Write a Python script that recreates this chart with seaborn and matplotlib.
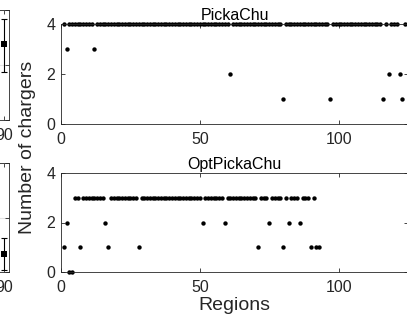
import numpy as np
import pandas as pd
import matplotlib
matplotlib.use("Agg")
import matplotlib.pyplot as plt
import seaborn as sns

# Chargers per region, PickaChu (regions 1..124; default is 4)
pick_regions = list(range(1, 125))
pick_exceptions = {2: 3, 12: 3, 61: 2, 80: 1, 97: 1, 116: 1, 118: 2, 122: 2, 123: 1}
pick_chargers = [pick_exceptions.get(r, 4) for r in pick_regions]

# Chargers per region, OptPickaChu (regions 1..93; default is 3)
opt_regions = list(range(1, 94))
opt_exceptions = {1: 1, 2: 2, 3: 0, 4: 0, 7: 1, 16: 2, 17: 1, 28: 1, 51: 2, 59: 2,
                  71: 1, 75: 2, 80: 1, 82: 2, 86: 2, 90: 1, 92: 1, 93: 1}
opt_chargers = [opt_exceptions.get(r, 3) for r in opt_regions]

# Neighbouring panels: mean with error range at x = 90
side_x = [90]
side_top_mean, side_top_lo, side_top_hi = [2.75], [1.76], [3.67]
side_bot_mean, side_bot_lo, side_bot_hi = [0.66], [0.08], [1.25]

sns.set_theme(style="white")
plt.rcParams["font.family"] = ["Liberation Sans", "DejaVu Sans"]

W, H = 407, 326
fig = plt.figure(figsize=(W / 100, H / 100), dpi=100)

def box(l, t, r, b):
    return [l / W, 1 - b / H, (r - l) / W, (b - t) / H]

spine_col = "#262626"
fs_tick = 11.5

def style(ax):
    for s in ax.spines.values():
        s.set_color(spine_col)
        s.set_linewidth(0.6)
        s.set_visible(True)
    ax.tick_params(direction="in", length=3, width=0.6, color=spine_col,
                   labelsize=fs_tick, labelcolor="#262626",
                   top=True, right=True, bottom=True, left=True)
    ax.tick_params(axis="x", pad=6)
    ax.tick_params(axis="y", pad=4)

ax_top = fig.add_axes(box(61, 24, 408, 124))
ax_bot = fig.add_axes(box(61, 173, 408, 272))

for ax, x, y, title in [(ax_top, pick_regions, pick_chargers, "PickaChu"),
                        (ax_bot, opt_regions, opt_chargers, "OptPickaChu")]:
    df = pd.DataFrame({"Region": x, "Chargers": y})
    sns.scatterplot(data=df, x="Region", y="Chargers", ax=ax, color="black",
                    s=10, linewidth=0, legend=False, clip_on=False)
    ax.set_xlim(0, 125)
    ax.set_ylim(0, 4)
    ax.set_xticks([0, 50, 100])
    ax.set_yticks([0, 2, 4])
    ax.set_xlabel("")
    ax.set_ylabel("")
    ax.set_title(title, fontsize=fs_tick, pad=3, color="#000000")
    style(ax)

# Partial panels to the left
for (t, b), m, lo, hi in [((10, 120), side_top_mean, side_top_lo, side_top_hi),
                          ((163, 272), side_bot_mean, side_bot_lo, side_bot_hi)]:
    ax = fig.add_axes(box(-120, t, 8.5, b))
    ax.set_xlim(30, 92)
    ax.set_ylim(0, 4)
    ax.set_xticks([30, 50, 70, 90])
    ax.set_yticks([0, 2, 4])
    ax.yaxis.grid(True, color="#e3e3e3", linewidth=0.8)
    ax.set_axisbelow(True)
    yerr = [[m[0] - lo[0]], [hi[0] - m[0]]]
    ax.errorbar(side_x, m, yerr=yerr, fmt="none", ecolor="black",
                elinewidth=0.8, capsize=2.3, capthick=0.8)
    sns.scatterplot(x=side_x, y=m, ax=ax, color="black", marker="s", s=16,
                    linewidth=0, legend=False)
    style(ax)

fig.text(28 / W, 1 - 147 / H, "Number of chargers", rotation=90,
         ha="center", va="center", fontsize=14, color="#262626")
fig.text(234.5 / W, 1 - 305 / H, "Regions", ha="center", va="center",
         fontsize=14, color="#262626")

fig.savefig("out.png", dpi=100)
